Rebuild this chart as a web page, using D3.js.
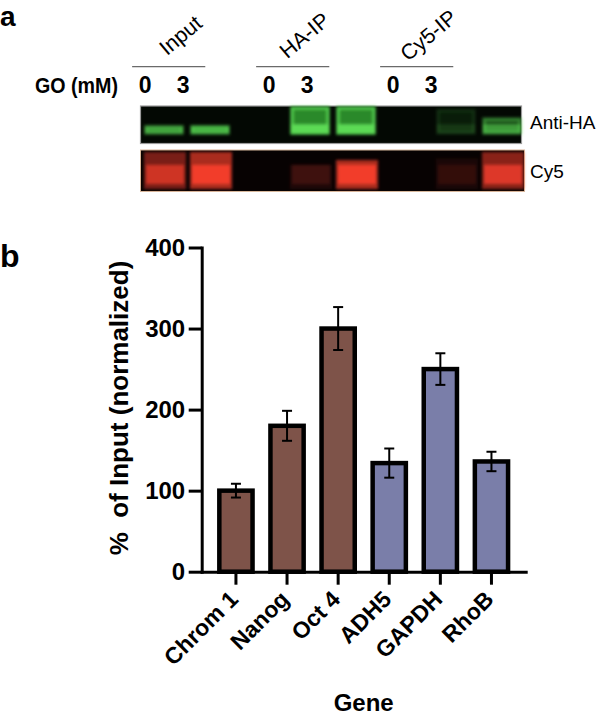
<!DOCTYPE html>
<html lang="en">
<head>
<meta charset="UTF-8">
<title>GO ChIP</title>
<script src="https://cdn.jsdelivr.net/npm/d3@7"></script>
<style>
  body { margin: 0; background: #fff; }
  text { font-family: "Liberation Sans", Arial, sans-serif; }
</style>
</head>
<body>
<script>
    // ---- data ----
    var genes = ["Chrom 1", "Nanog", "Oct 4", "ADH5", "GAPDH", "RhoB"];
    var meanVals = [100, 180, 300, 134, 250, 136];
    var errVals = [8.5, 18.5, 26.5, 18, 19.5, 12];
    var geneSet = ["A", "A", "A", "B", "B", "B"];
    var yTicks = [0, 100, 200, 300, 400];

    var ipGroups = ["Input", "HA-IP", "Cy5-IP"];
    var goDoses = ["0", "3"];
    // blot signal per lane (Input 0, Input 3, HA-IP 0, HA-IP 3, Cy5-IP 0, Cy5-IP 3)
    var antiHA = [0.55, 0.65, 1, 1, 0.15, 0.55];
    var antiHASpread = [0.25, 0.25, 1, 1, 0.9, 0.55];
    var cy5 = [0.7, 1, 0.15, 1, 0.12, 0.8];
    var cy5Spread = [1, 1, 0.6, 0.75, 0.8, 1];

    var width = 600, height = 717;

    var svg = d3.select("body").append("svg")
        .attr("width", width)
        .attr("height", height);

    svg.append("defs").append("filter")
        .attr("id", "blur")
        .attr("x", "-30%").attr("y", "-30%").attr("width", "160%").attr("height", "160%")
        .append("feGaussianBlur").attr("stdDeviation", 1.8);

    // ---- panel a ----
    svg.append("text").attr("x", 0).attr("y", 25.5).text("a")
        .style("font-size", "28px").style("font-weight", "bold");

    var headX = d3.scaleBand().domain(ipGroups).range([106.7, 478.7]);
    var headDose = d3.scalePoint().domain(goDoses).range([-23.5, 14.5]);

    var head = svg.append("g").selectAll("g").data(ipGroups).join("g")
        .attr("transform", function (d) { return "translate(" + (headX(d) + headX.bandwidth() / 2) + ",0)"; });

    head.append("text")
        .attr("transform", "translate(16.5,41) rotate(-40)")
        .attr("text-anchor", "middle")
        .style("font-size", "21.5px")
        .text(function (d) { return d; });

    head.append("line")
        .attr("x1", -headX.bandwidth() * 0.295)
        .attr("x2", headX.bandwidth() * 0.295)
        .attr("y1", 66.7).attr("y2", 66.7)
        .attr("stroke", "#6a6a6a").attr("stroke-width", 1.3);

    head.selectAll("text.dose").data(goDoses).join("text")
        .attr("class", "dose")
        .attr("x", function (d) { return headDose(d); })
        .attr("y", 93)
        .attr("text-anchor", "middle")
        .style("font-size", "23px").style("font-weight", "bold")
        .text(function (d) { return d; });

    svg.append("text").attr("x", 35).attr("y", 93)
        .attr("textLength", 83).attr("lengthAdjust", "spacingAndGlyphs")
        .style("font-size", "22px").style("font-weight", "bold")
        .text("GO (mM)");

    // blot lanes
    var lanes = d3.cross(ipGroups, goDoses);
    var laneX = d3.scaleBand().domain(ipGroups).range([114, 552]);
    var laneDose = d3.scalePoint().domain(goDoses).range([-23, 23]);
    var laneW = 40;
    function laneCenter(l) { return laneX(l[0]) + laneX.bandwidth() / 2 + laneDose(l[1]); }

    // green strip (anti-HA)
    svg.append("rect").attr("x", 140.5).attr("y", 106).attr("width", 381).attr("height", 37.5)
        .attr("fill", "#030803").attr("stroke", "#9a9a9a").attr("stroke-width", 1.2);
    var gY = d3.scaleLinear().domain([0, 1]).range([133, 108]);
    var green = svg.append("g").attr("filter", "url(#blur)");
    green.selectAll("rect.smear").data(lanes).join("rect")
        .attr("class", "smear")
        .attr("x", function (d) { return laneCenter(d) - laneW / 2 + 2; })
        .attr("width", laneW - 4)
        .attr("y", function (d, i) { return gY(antiHASpread[i]); })
        .attr("height", function (d, i) { return gY(0) - gY(antiHASpread[i]); })
        .attr("fill", "#36a936")
        .attr("fill-opacity", function (d, i) { return antiHA[i] * 0.8; })
        .attr("stroke", "#52d04f")
        .attr("stroke-width", 3.5)
        .attr("stroke-opacity", function (d, i) { return antiHA[i] * 0.9; });
    green.selectAll("rect.core").data(lanes).join("rect")
        .attr("class", "core")
        .attr("x", function (d) { return laneCenter(d) - laneW / 2 + 1; })
        .attr("width", laneW - 2)
        .attr("y", function (d, i) { return gY(Math.min(0.35, antiHASpread[i])); })
        .attr("height", function (d, i) { return gY(0) - gY(Math.min(0.35, antiHASpread[i])); })
        .attr("fill", "#5cda55")
        .attr("fill-opacity", function (d, i) { return antiHA[i]; });

    // red strip (Cy5)
    svg.append("rect").attr("x", 140.5).attr("y", 150).attr("width", 384).attr("height", 41.5)
        .attr("fill", "#070202").attr("stroke", "#d8b89c").attr("stroke-width", 1);
    var rY = d3.scaleLinear().domain([0, 1]).range([184, 152]);
    var red = svg.append("g").attr("filter", "url(#blur)");
    red.selectAll("rect.smear").data(lanes).join("rect")
        .attr("class", "smear")
        .attr("x", function (d) { return laneCenter(d) - laneW / 2; })
        .attr("width", laneW + 2)
        .attr("y", function (d, i) { return rY(cy5Spread[i]); })
        .attr("height", function (d, i) { return rY(0) - rY(cy5Spread[i]) + 5; })
        .attr("fill", "#e0382a")
        .attr("fill-opacity", function (d, i) { return cy5[i] * 0.75; });
    red.selectAll("rect.core").data(lanes).join("rect")
        .attr("class", "core")
        .attr("x", function (d) { return laneCenter(d) - laneW / 2 + 2; })
        .attr("width", laneW - 2)
        .attr("y", function (d, i) { return rY(Math.min(0.6, cy5Spread[i])); })
        .attr("height", function (d, i) { return rY(0) - rY(Math.min(0.6, cy5Spread[i])); })
        .attr("fill", "#f23e2c")
        .attr("fill-opacity", function (d, i) { return cy5[i]; });

    svg.append("text").attr("x", 530).attr("y", 128.5).text("Anti-HA").style("font-size", "19px");
    svg.append("text").attr("x", 530).attr("y", 178).text("Cy5").style("font-size", "19px");

    // ---- panel b ----
    svg.append("text").attr("x", 0).attr("y", 267).text("b")
        .style("font-size", "32px").style("font-weight", "bold");

    var x = d3.scaleBand().domain(genes).range([201.7, 525.7])
        .paddingInner(0.35).paddingOuter(0.345);
    var y = d3.scaleLinear().domain([0, 400]).range([571.7, 247.5]);
    var color = d3.scaleOrdinal().domain(["A", "B"]).range(["#7e5349", "#7a7ea9"]);

    svg.selectAll("rect.bar").data(genes).join("rect")
        .attr("class", "bar")
        .attr("x", function (d) { return x(d); })
        .attr("y", function (d, i) { return y(meanVals[i]); })
        .attr("width", x.bandwidth())
        .attr("height", function (d, i) { return y(0) - y(meanVals[i]); })
        .attr("fill", function (d, i) { return color(geneSet[i]); })
        .attr("stroke", "#000")
        .attr("stroke-width", 4.5);

    // error bars
    var eb = svg.append("g").attr("stroke", "#000").attr("stroke-width", 2)
        .selectAll("g").data(genes).join("g")
        .attr("transform", function (d) { return "translate(" + (x(d) + x.bandwidth() / 2) + ",0)"; });
    eb.append("line")
        .attr("y1", function (d, i) { return y(meanVals[i] + errVals[i]); })
        .attr("y2", function (d, i) { return y(meanVals[i] - errVals[i]); });
    eb.append("line").attr("x1", -5).attr("x2", 5)
        .attr("y1", function (d, i) { return y(meanVals[i] + errVals[i]); })
        .attr("y2", function (d, i) { return y(meanVals[i] + errVals[i]); });
    eb.append("line").attr("x1", -5).attr("x2", 5)
        .attr("y1", function (d, i) { return y(meanVals[i] - errVals[i]); })
        .attr("y2", function (d, i) { return y(meanVals[i] - errVals[i]); });

    var yAxis = svg.append("g").attr("transform", "translate(201.7,0)")
        .call(d3.axisLeft(y).tickValues(yTicks).tickSize(13).tickSizeOuter(0).tickPadding(3.5));
    var xAxis = svg.append("g").attr("transform", "translate(0," + y(0) + ")")
        .call(d3.axisBottom(x).tickSize(13).tickSizeOuter(0));

    [yAxis, xAxis].forEach(function (a) {
        a.select(".domain").attr("stroke-width", 3).attr("stroke-linecap", "square");
        a.selectAll(".tick line").attr("stroke-width", 3);
        a.selectAll("text").attr("fill", "#000")
            .style("font-family", "'Liberation Sans', Arial, sans-serif")
            .style("font-weight", "bold");
    });
    yAxis.selectAll("text").style("font-size", "24px");
    xAxis.selectAll("text")
        .attr("x", 0).attr("y", 0).attr("dy", null)
        .attr("transform", "translate(3.5,29) rotate(-45)")
        .attr("text-anchor", "end")
        .style("font-size", "23px");

    svg.append("text")
        .attr("transform", "translate(128,408) rotate(-90)")
        .attr("text-anchor", "middle")
        .style("font-size", "26px").style("font-weight", "bold")
        .style("white-space", "pre")
        .text("%  of Input (normalized)");

    svg.append("text")
        .attr("x", (x.range()[0] + x.range()[1]) / 2)
        .attr("y", 711)
        .attr("text-anchor", "middle")
        .style("font-size", "24px").style("font-weight", "bold")
        .text("Gene");
</script>
</body>
</html>
